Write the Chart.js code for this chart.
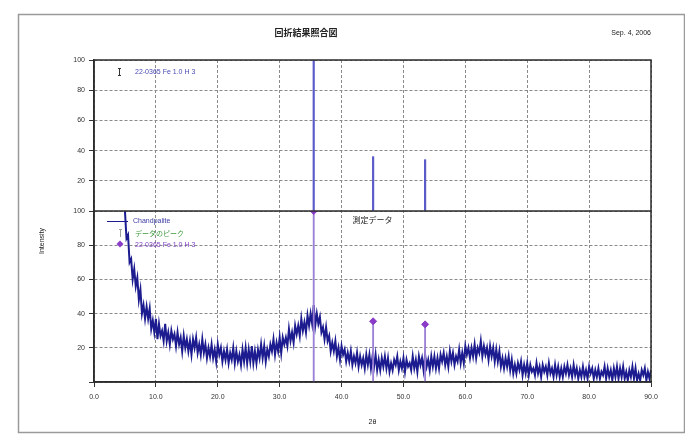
<!DOCTYPE html>
<html>
<head>
<meta charset="utf-8">
<script src="https://cdn.jsdelivr.net/npm/chart.js@4.4.0/dist/chart.umd.min.js"></script>
<style>
  html, body { margin: 0; padding: 0; background: #fff; }
  #wrap { width: 685px; height: 445px; }
</style>
</head>
<body>
<div id="wrap"><canvas id="xrd-chart" width="685" height="445"></canvas></div>
<script>
// measured pattern, 2θ from 5° in 0.25° steps
const twoThetaStart = 5;
const twoThetaStep = 0.25;
const measuredIntensity = [
  100, 84, 86, 70,  72, 60, 66, 56,  61, 48, 54, 40,  45, 37, 44, 37,  43, 31, 36, 29,
  37, 25, 34, 27,  30, 24, 34, 24,  29, 22, 30, 25,  28, 21, 29, 22,  26, 18, 27, 20,
  25, 18, 24, 16,  25, 20, 26, 17,  22, 16, 25, 17,  22, 14, 20, 15,  22, 14, 19, 12,
  22, 16, 20, 12,  18, 13, 19, 11,  17, 13, 20, 11,  18, 12, 16, 10,  19, 12, 20, 11,
  19, 12, 21, 11,  18, 11, 19, 14,  22, 14, 21, 12,  19, 15, 22, 18,  25, 16, 23, 18,
  26, 17, 26, 22,  26, 21, 31, 24,  29, 23, 33, 28,  33, 27, 37, 30,  35, 29, 39, 33,
  40, 34, 45, 33,  40, 34, 38, 29,  32, 25, 32, 24,  27, 18, 23, 18,  24, 15, 20, 13,
  21, 16, 19, 12,  17, 12, 18, 10,  15, 11, 17, 9,   15, 10, 14, 8,   16, 10, 16, 8,
  15, 9, 16, 7,    13, 7, 14, 9,    15, 8, 14, 6,    11, 7, 13, 10,   15, 7, 12, 8,
  14, 6, 13, 9,    11, 7, 15, 8,    13, 6, 15, 10,   14, 7, 16, 9,    13, 7, 15, 9,
  15, 8, 14, 8,    16, 12, 17, 10,  15, 9, 18, 12,   17, 10, 15, 12,  19, 11, 17, 11,
  21, 16, 20, 14,  20, 15, 22, 14,  20, 17, 24, 15,  21, 16, 20, 13,  21, 15, 20, 12,
  19, 12, 18, 9,   14, 8, 14, 9,    15, 7, 13, 5,    10, 5, 11, 7,    12, 4, 10, 5,
  11, 4, 10, 6,    8, 4, 11, 5,     9, 3, 10, 6,     9, 4, 11, 5,     8, 3, 10, 4,
  9, 3, 8, 3,      9, 5, 10, 4,     8, 3, 10, 4,     8, 2, 7, 3,      9, 3, 7, 2,
  9, 5, 8, 2,      7, 3, 8, 2,      6, 4, 9, 2,      8, 3, 7, 1,      8, 3, 9, 2,
  8, 3, 9, 2,      6, 1, 7, 3,      9, 2, 8, 1,      5, 1, 7, 4,      8, 1, 6, 2,
  7
];

// reference card sticks (upper panel)
const cardAngles = [35.5, 45.1, 53.5];
const cardIntensity = [100, 36, 34];

// matched peaks marked on the measured pattern (lower panel)
const peakAngles = [35.5, 45.1, 53.5];
const peakIntensity = [100, 35.5, 33.7];

const xTickValues = [0, 10, 20, 30, 40, 50, 60, 70, 80, 90];
const yTickValues = [0, 20, 40, 60, 80, 100];

const chartTitle = "回折結果照合図";
const chartDate = "Sep. 4, 2006";
const xTitle = "2θ";
const yTitle = "Intensity";
const measuredLabel = "Chandpalite";
const peakLabel = "データのピーク";
const cardLabel = "22-0365 Fe 1.0 H 3";
const noteText = "測定データ";

const measuredPoints = measuredIntensity.map((v, i) => ({ x: twoThetaStart + i * twoThetaStep, y: v }));
const cardPoints = cardAngles.map((a, i) => ({ x: a, y: cardIntensity[i] }));
const peakPoints = peakAngles.map((a, i) => ({ x: a, y: peakIntensity[i] }));

const latin = "'Liberation Sans', Arial, sans-serif";
const cjk = "'Noto Sans CJK JP', sans-serif";
Chart.defaults.font.family = latin;
Chart.defaults.font.size = 7;
Chart.defaults.color = "#333";

const gridOpts = { color: "#8a8a8a", tickLength: 5, tickColor: "#333", tickWidth: 1, offset: false };
const borderOpts = { dash: [3, 2], color: "#333", width: 1.5 };

function panelAxis(weight) {
  return {
    type: "linear",
    position: "left",
    stack: "panels",
    stackWeight: weight,
    min: 0,
    max: 100,
    afterBuildTicks: (s) => { s.ticks = yTickValues.map((v) => ({ value: v })); },
    ticks: { callback: (v) => (v === 0 ? "" : String(v)), padding: 4 },
    grid: gridOpts,
    border: borderOpts,
    afterFit: (s) => { s.width = 30; },
  };
}

// frame, titles, legends and the note (drawn on the canvas as text)
const pageDecor = {
  id: "pageDecor",
  beforeDraw(chart) {
    const { ctx, width, height } = chart;
    ctx.save();
    ctx.fillStyle = "#fff";
    ctx.fillRect(0, 0, width, height);
    ctx.strokeStyle = "#9a9a9a";
    ctx.lineWidth = 1.5;
    ctx.strokeRect(18.5, 14.5, width - 19, height - 27);
    ctx.restore();
  },
  afterDraw(chart) {
    const { ctx, chartArea: a, scales } = chart;
    const split = scales.y2.bottom;
    const ds = chart.data.datasets;
    ctx.save();

    ctx.strokeStyle = "#2b2b2b";
    ctx.lineWidth = 1.5;
    ctx.strokeRect(a.left, a.top, a.right - a.left, a.bottom - a.top);
    ctx.beginPath();
    ctx.moveTo(a.left, split);
    ctx.lineTo(a.right, split);
    ctx.stroke();

    ctx.textBaseline = "middle";
    ctx.fillStyle = "#222";
    ctx.textAlign = "center";
    ctx.font = "bold 9px " + cjk;
    ctx.fillText(chartTitle, 306, 33);
    ctx.textAlign = "right";
    ctx.font = "7px " + latin;
    ctx.fillText(chartDate, a.right, 33);

    ctx.textAlign = "center";
    ctx.fillText(xTitle, (a.left + a.right) / 2, 422);
    ctx.save();
    ctx.translate(42, 241);
    ctx.rotate(-Math.PI / 2);
    ctx.fillText(yTitle, 0, 0);
    ctx.restore();

    // note under the split line
    ctx.font = "8px " + cjk;
    ctx.fillStyle = "#222";
    ctx.fillText(noteText, scales.x.getPixelForValue(45), split + 9);

    ctx.textAlign = "left";
    ctx.lineWidth = 1;

    // upper legend
    ctx.strokeStyle = "#333";
    ctx.beginPath();
    ctx.moveTo(119.5, 68); ctx.lineTo(119.5, 76);
    ctx.moveTo(118, 68.5); ctx.lineTo(121, 68.5);
    ctx.moveTo(118, 75.5); ctx.lineTo(121, 75.5);
    ctx.stroke();
    ctx.fillStyle = "#4b4bb5";
    ctx.font = "7px " + latin;
    ctx.fillText(cardLabel, 135, 72);

    // lower legend
    ctx.strokeStyle = ds[0].borderColor;
    ctx.beginPath();
    ctx.moveTo(107, 221.5); ctx.lineTo(128, 221.5);
    ctx.stroke();
    ctx.fillStyle = "#3b3ba3";
    ctx.fillText(measuredLabel, 133, 221);

    ctx.strokeStyle = "#9aa09a";
    ctx.beginPath();
    ctx.moveTo(120.5, 229); ctx.lineTo(120.5, 237);
    ctx.moveTo(119, 229.5); ctx.lineTo(122, 229.5);
    ctx.stroke();
    ctx.fillStyle = ds[1].borderColor;
    ctx.font = "7px " + cjk;
    ctx.fillText(peakLabel, 135, 233);

    ctx.fillStyle = ds[2].backgroundColor;
    ctx.beginPath();
    ctx.moveTo(120, 240.5); ctx.lineTo(123.5, 244); ctx.lineTo(120, 247.5); ctx.lineTo(116.5, 244);
    ctx.closePath();
    ctx.fill();
    ctx.fillStyle = "#7b3fbf";
    ctx.font = "7px " + latin;
    ctx.fillText(cardLabel, 135, 245);

    ctx.restore();
  },
};

new Chart(document.getElementById("xrd-chart"), {
  type: "line",
  data: {
    datasets: [
      {
        type: "line",
        label: measuredLabel,
        data: measuredPoints,
        yAxisID: "y",
        borderColor: "#1c1c90",
        borderWidth: 2,
        pointRadius: 0,
        tension: 0,
        order: 4,
      },
      {
        type: "line",
        label: peakLabel,
        data: [],
        yAxisID: "y",
        borderColor: "#3c9a3c",
        pointRadius: 0,
      },
      {
        type: "scatter",
        label: cardLabel,
        data: peakPoints,
        yAxisID: "y",
        pointStyle: "rectRot",
        pointRadius: 3.5,
        backgroundColor: "#8a3cc8",
        borderColor: "#8a3cc8",
        order: 1,
      },
      {
        type: "bar",
        label: cardLabel + " drop",
        data: peakPoints,
        yAxisID: "y",
        backgroundColor: "#9b80d6",
        barThickness: 1.2,
        grouped: false,
        order: 2,
      },
      {
        type: "bar",
        label: cardLabel + " card",
        data: cardPoints,
        yAxisID: "y2",
        backgroundColor: "#5a5ac8",
        barThickness: 1.5,
        grouped: false,
        order: 3,
      },
    ],
  },
  options: {
    responsive: false,
    devicePixelRatio: 1,
    animation: false,
    layout: { padding: { left: 64, right: 34, top: 60, bottom: 38 } },
    plugins: { legend: { display: false }, tooltip: { enabled: false }, title: { display: false } },
    scales: {
      x: {
        type: "linear",
        min: 0,
        max: 90,
        offset: false,
        afterBuildTicks: (s) => { s.ticks = xTickValues.map((v) => ({ value: v })); },
        ticks: { callback: (v) => Number(v).toFixed(1), maxRotation: 0, padding: 6 },
        grid: gridOpts,
        border: borderOpts,
        afterFit: (s) => { s.height = 25; },
      },
      y: panelAxis(171),
      y2: panelAxis(151),
    },
  },
  plugins: [pageDecor],
});
</script>
</body>
</html>
